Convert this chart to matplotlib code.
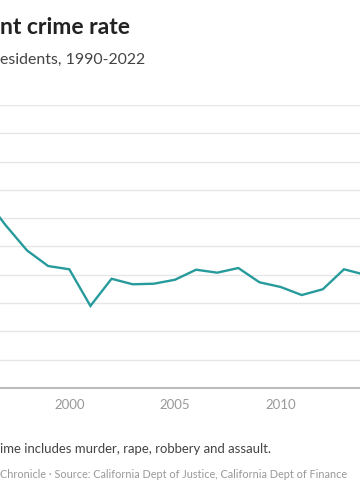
import matplotlib
matplotlib.use("Agg")
import matplotlib.pyplot as plt

# data (per 100,000 residents)
years = [1996, 1997, 1998, 1999, 2000, 2001, 2002, 2003, 2004, 2005,
         2006, 2007, 2008, 2009, 2010, 2011, 2012, 2013, 2014]
rate = [1343, 1148, 972, 862, 839, 580, 772, 733, 737, 765,
        836, 815, 848, 747, 714, 657, 698, 839, 800]
xticks = [2000, 2005, 2010]
yticks = list(range(0, 2001, 200))

# the reference is a crop of a wider graphic: only these parts of the texts show
title = 'nt crime rate'
subtitle = 'esidents, 1990-2022'
note = 'ime includes murder, rape, robbery and assault.'
credit = 'Chronicle \u00b7 Source: California Dept of Justice, California Dept of Finance'

W, H = 360, 504
fig = plt.figure(figsize=(W / 100, H / 100), dpi=100)
plt.rcParams['font.family'] = ['Lato', 'DejaVu Sans']

#
# axes run off the left and right edge, like the cropped original
#
x0 = -142.0          # pixel position of 1990
ppy = 21.13          # pixels per year
left = x0 / W
width = (2022 - 1990) * ppy / W
bottom = (H - 388) / H
height = (388 - 105) / H
ax = fig.add_axes([left, bottom, width, height])

ax.plot(years, rate, color='#279b9b', linewidth=1.7, solid_joinstyle='miter')
ax.set_xlim(1990, 2022)
ax.set_ylim(0, 2000)
ax.set_xticks(xticks)
ax.set_xticklabels([str(t) for t in xticks])
ax.set_yticks(yticks)
ax.set_yticklabels([])
ax.grid(axis='y', color='#e6e6e6', linewidth=1)
ax.set_axisbelow(True)
for s in ['top', 'right', 'left']:
    ax.spines[s].set_visible(False)
ax.spines['bottom'].set_color('#bbbbbb')
ax.spines['bottom'].set_linewidth(1.5)
ax.tick_params(axis='x', length=0, pad=8, labelsize=9.5, labelcolor='#999999')
ax.tick_params(axis='y', length=0)

#
# texts
#
def fy(py):
    return 1 - py / H

fig.text(0.5 / W, fy(34), title, ha='left', va='baseline',
         fontsize=16.5, fontweight='bold', color='#222222')
fig.text(0.5 / W, fy(64), subtitle, ha='left', va='baseline',
         fontsize=11.4, color='#444444')
fig.text(0.5 / W, fy(453), note, ha='left', va='baseline',
         fontsize=9.45, color='#444444')
fig.text(0.5 / W, fy(478), credit, ha='left', va='baseline',
         fontsize=7.8, color='#999999')

fig.savefig('out.png', dpi=100)
